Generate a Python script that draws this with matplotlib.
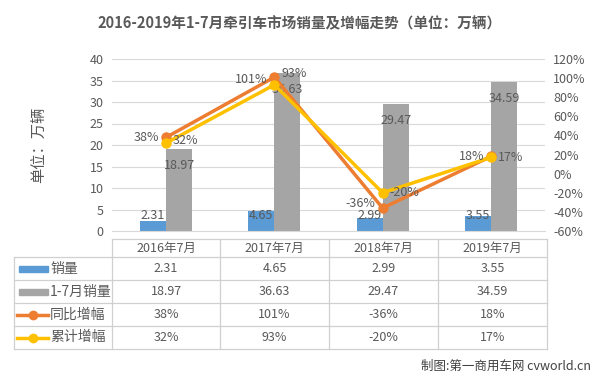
import matplotlib
matplotlib.use('Agg')
import matplotlib.pyplot as plt
from matplotlib.lines import Line2D
from matplotlib.patches import Rectangle
import numpy as np

plt.rcParams['font.family'] = ['Noto Sans CJK SC', 'DejaVu Sans']

categories = ['2016年7月', '2017年7月', '2018年7月', '2019年7月']
sales_month = [2.31, 4.65, 2.99, 3.55]
sales_ytd = [18.97, 36.63, 29.47, 34.59]
yoy_growth = [0.38, 1.01, -0.36, 0.18]
ytd_growth = [0.32, 0.93, -0.20, 0.17]
series_names = ['销量', '1-7月销量', '同比增幅', '累计增幅']

c_blue = '#5B9BD5'
c_gray = '#A5A5A5'
c_orange = '#ED7D31'
c_yellow = '#FFC000'
c_text = '#595959'
c_grid = '#D9D9D9'

W, H = 600, 379
fig = plt.figure(figsize=(6, 3.79), dpi=100)


def fx(px):
    return px / W


def fy(py):
    return 1 - py / H


ax = fig.add_axes([fx(112), fy(231), fx(545 - 112), fy(59) - fy(231)])
ax2 = ax.twinx()

x = np.arange(len(categories))
bw = 0.24
ax.bar(x - bw / 2, sales_month, bw, color=c_blue, zorder=2)
ax.bar(x + bw / 2, sales_ytd, bw, color=c_gray, zorder=2)
ax.set_xlim(-0.5, len(categories) - 0.5)
ax.set_ylim(0, 40)
ax.set_yticks(range(0, 41, 5))
ax.yaxis.grid(True, color=c_grid, lw=0.8, zorder=0)
ax.set_axisbelow(True)
ax.set_xticks([])
for s in ax.spines.values():
    s.set_visible(False)
ax.spines['bottom'].set_visible(True)
ax.spines['bottom'].set_color(c_grid)
ax.tick_params(axis='y', length=0, labelsize=9, colors=c_text, pad=6)

for xi, v in zip(x, sales_month):
    ax.annotate(f'{v:.2f}', (xi - bw / 2, 0), xytext=(0, 11), textcoords='offset points',
                ha='center', va='center', fontsize=9, color=c_text, zorder=5)
for xi, v in zip(x, sales_ytd):
    ax.annotate(f'{v:.2f}', (xi + bw / 2, v), xytext=(0, -11.5), textcoords='offset points',
                ha='center', va='center', fontsize=9, color=c_text, zorder=5)

ax2.plot(x, yoy_growth, color=c_orange, lw=2.5, marker='o', ms=6.5, zorder=3)
ax2.plot(x, ytd_growth, color=c_yellow, lw=2.5, marker='o', ms=6.5, zorder=4)
ax2.set_ylim(-0.6, 1.2)
ax2.set_yticks(np.arange(-0.6, 1.21, 0.2))
ax2.set_yticklabels([f'{int(round(t * 100))}%' for t in np.arange(-0.6, 1.21, 0.2)])
for s in ax2.spines.values():
    s.set_visible(False)
ax2.tick_params(axis='y', length=0, labelsize=9, colors=c_text, pad=6)

yoy_off = [(-5, 0), (-5, -2), (-5, 3), (-5, 0)]
ytd_off = [(5, 2), (5, 8), (5, 0), (5, 0)]
for xi, v, o in zip(x, yoy_growth, yoy_off):
    ax2.annotate(f'{int(round(v * 100))}%', (xi, v), xytext=o, textcoords='offset points',
                 ha='right', va='center', fontsize=9, color=c_text, zorder=6)
for xi, v, o in zip(x, ytd_growth, ytd_off):
    ax2.annotate(f'{int(round(v * 100))}%', (xi, v), xytext=o, textcoords='offset points',
                 ha='left', va='center', fontsize=9, color=c_text, zorder=6)

# title and axis label
fig.text(fx(300), fy(23), '2016-2019年1-7月牵引车市场销量及增幅走势（单位：万辆）',
         ha='center', va='center', fontsize=10.5, fontweight='bold', color=c_text)
fig.text(fx(40), fy(145), '单位：万辆', rotation=90, ha='center', va='center',
         fontsize=11, color=c_text)

# data table
col_edges = [112, 220, 329, 438, 547]
row_edges = [239, 257, 280, 303, 326, 349]
left_edge = 14
tbl_color = '#D0D0D0'


def hline(y, x0, x1):
    fig.add_artist(Line2D([fx(x0), fx(x1)], [fy(y), fy(y)], color=tbl_color, lw=0.9))


def vline(xp, y0, y1):
    fig.add_artist(Line2D([fx(xp), fx(xp)], [fy(y0), fy(y1)], color=tbl_color, lw=0.9))


hline(row_edges[0], col_edges[0], col_edges[-1])
for y in row_edges[1:]:
    hline(y, left_edge, col_edges[-1])
for xp in col_edges:
    vline(xp, row_edges[0], row_edges[-1])
vline(left_edge, row_edges[1], row_edges[-1])

for i, c in enumerate(categories):
    cx = (col_edges[i] + col_edges[i + 1]) / 2
    fig.text(fx(cx), fy((row_edges[0] + row_edges[1]) / 2), c, ha='center', va='center',
             fontsize=9, color=c_text)

rows = [
    [f'{v:.2f}' for v in sales_month],
    [f'{v:.2f}' for v in sales_ytd],
    [f'{int(round(v * 100))}%' for v in yoy_growth],
    [f'{int(round(v * 100))}%' for v in ytd_growth],
]
for r, vals in enumerate(rows):
    cy = (row_edges[r + 1] + row_edges[r + 2]) / 2
    for i, v in enumerate(vals):
        cx = (col_edges[i] + col_edges[i + 1]) / 2
        fig.text(fx(cx), fy(cy), v, ha='center', va='center', fontsize=9, color=c_text)
    fig.text(fx(50), fy(cy), series_names[r], ha='left', va='center', fontsize=10, color=c_text)
    if r < 2:
        fig.add_artist(Rectangle((fx(19), fy(cy + 3)), fx(29), fy(cy - 3) - fy(cy + 3),
                                 color=[c_blue, c_gray][r], transform=fig.transFigure))
    else:
        col = [c_orange, c_yellow][r - 2]
        fig.add_artist(Line2D([fx(17), fx(48)], [fy(cy), fy(cy)], color=col, lw=2.5))
        fig.add_artist(Line2D([fx(32.5)], [fy(cy)], color=col, marker='o', ms=6))

fig.text(fx(591), fy(366), '制图:第一商用车网 cvworld.cn', ha='right', va='center',
         fontsize=9, color='#404040')

fig.savefig('out.png', dpi=100)
